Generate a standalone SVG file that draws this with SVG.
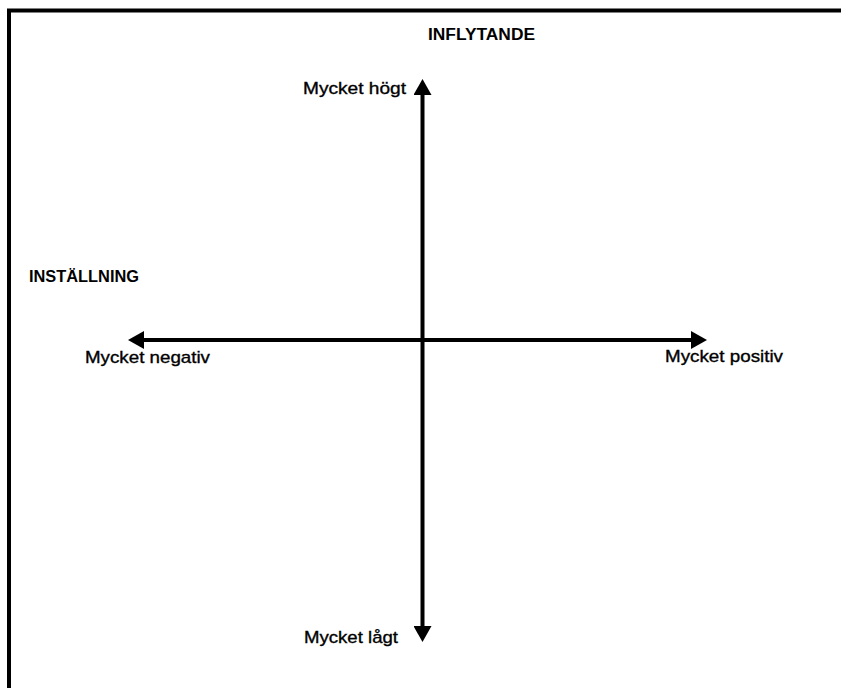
<svg xmlns="http://www.w3.org/2000/svg" width="841" height="688" viewBox="0 0 841 688">
  <style>
    .lbl { font-family: "Liberation Sans", Arial, sans-serif; font-size: 17px; fill: #000; stroke: #000; stroke-width: 0.35; }
    .ttl { font-family: "Liberation Sans", Arial, sans-serif; font-size: 16px; font-weight: bold; fill: #000; }
    .axis { stroke: #000; stroke-width: 4; fill: none; }
  </style>
  <defs>
    <marker id="arrow" viewBox="0 0 16 18" markerUnits="userSpaceOnUse" markerWidth="16" markerHeight="18" refX="0" refY="9" orient="auto-start-reverse">
      <path d="M0,0 L16,9 L0,18 Z" fill="#000"/>
    </marker>
  </defs>
  <rect width="841" height="688" fill="#fff"/>
  <rect id="frame" x="9" y="10.5" width="900" height="800" fill="none" stroke="#000" stroke-width="4"/>

  <g id="connectors">
    <line class="axis" x1="422.5" y1="95" x2="422.5" y2="626" marker-start="url(#arrow)" marker-end="url(#arrow)"/>
    <line class="axis" x1="144" y1="340" x2="691" y2="340" marker-start="url(#arrow)" marker-end="url(#arrow)"/>
  </g>

  <g id="inflytande"><text class="ttl" x="428" y="40" textLength="107" lengthAdjust="spacingAndGlyphs">INFLYTANDE</text></g>
  <g id="installning"><text class="ttl" x="29" y="282" textLength="110" lengthAdjust="spacingAndGlyphs">INSTÄLLNING</text></g>
  <g id="mycket-hogt"><text class="lbl" x="303" y="94" textLength="103" lengthAdjust="spacingAndGlyphs">Mycket högt</text></g>
  <g id="mycket-lagt"><text class="lbl" x="304" y="643" textLength="94" lengthAdjust="spacingAndGlyphs">Mycket lågt</text></g>
  <g id="mycket-negativ"><text class="lbl" x="85" y="362.5" textLength="125" lengthAdjust="spacingAndGlyphs">Mycket negativ</text></g>
  <g id="mycket-positiv"><text class="lbl" x="665" y="362" textLength="118" lengthAdjust="spacingAndGlyphs">Mycket positiv</text></g>
</svg>
